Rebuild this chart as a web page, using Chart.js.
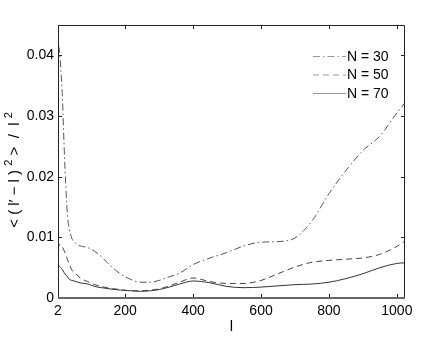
<!DOCTYPE html>
<html><head><meta charset="utf-8">
<script src="https://cdn.jsdelivr.net/npm/chart.js@4/dist/chart.umd.min.js"></script>
<style>html,body{margin:0;padding:0;background:#fff}#wrap{width:448px;height:337px;position:relative}</style>
</head><body><div id="wrap"><canvas id="c" width="448" height="337"></canvas></div>
<script>
// ---- data ----
const lValues = [2, 6, 10, 15, 20, 25, 30, 35, 43, 55, 67, 90, 110, 130, 155, 185, 215, 245, 275, 300, 330, 360, 400, 450, 500, 550, 600, 650, 700, 750, 800, 850, 900, 950, 1000, 1024];
const n30 = [0.0415, 0.0410, 0.0380, 0.0330, 0.0250, 0.0184, 0.0135, 0.0115, 0.0098, 0.0090, 0.0086, 0.0083, 0.0077, 0.0068, 0.0054, 0.0040, 0.0031, 0.0026, 0.0026, 0.0029, 0.0035, 0.0041, 0.0055, 0.0066, 0.0075, 0.0086, 0.0092, 0.0093, 0.0099, 0.0127, 0.0172, 0.0210, 0.0243, 0.0267, 0.0305, 0.0322];
const n50 = [0.0080, 0.0088, 0.0088, 0.0084, 0.0078, 0.0072, 0.0063, 0.0056, 0.0046, 0.0040, 0.0033, 0.0027, 0.0022, 0.0019, 0.0016, 0.0014, 0.0012, 0.0012, 0.0013, 0.0015, 0.0020, 0.0026, 0.0033, 0.0027, 0.0024, 0.0024, 0.0029, 0.0040, 0.0051, 0.0059, 0.0062, 0.0064, 0.0066, 0.0072, 0.0085, 0.0094];
const n70 = [0.0051, 0.0052, 0.0050, 0.0047, 0.0042, 0.0038, 0.0035, 0.0031, 0.0029, 0.0027, 0.0025, 0.0023, 0.0019, 0.0017, 0.0015, 0.0013, 0.0012, 0.0011, 0.0012, 0.0014, 0.0018, 0.0023, 0.0028, 0.0025, 0.0019, 0.0017, 0.0018, 0.0020, 0.0022, 0.0023, 0.0026, 0.0032, 0.0040, 0.0050, 0.0057, 0.0058];
const seriesNames = ['N = 30', 'N = 50', 'N = 70'];
const xTicks = [2, 200, 400, 600, 800, 1000];
const yTicks = [0, 0.01, 0.02, 0.03, 0.04];
const xTitle = 'l';

const FONT = "'Liberation Sans', Arial, Helvetica, sans-serif";
Chart.defaults.font.family = FONT;
Chart.defaults.font.size = 14;
Chart.defaults.color = '#000';

const toPts = arr => arr.map((v, i) => ({x: lValues[i], y: v}));

const framePlugin = {
  id: 'frame',
  afterDatasetsDraw(chart) {
    const {ctx, chartArea: a, scales} = chart;
    ctx.save();
    // inner ticks
    ctx.strokeStyle = '#222';
    ctx.lineWidth = 1;
    const tl = 4;
    ctx.beginPath();
    xTicks.forEach(v => {
      const px = Math.round(scales.x.getPixelForValue(v)) + 0.5;
      ctx.moveTo(px, a.bottom); ctx.lineTo(px, a.bottom - tl);
      ctx.moveTo(px, a.top); ctx.lineTo(px, a.top + tl);
    });
    yTicks.forEach(v => {
      const py = Math.round(scales.y.getPixelForValue(v)) + 0.5;
      ctx.moveTo(a.left, py); ctx.lineTo(a.left + tl, py);
      ctx.moveTo(a.right, py); ctx.lineTo(a.right - tl, py);
    });
    ctx.stroke();
    // frame
    ctx.beginPath();
    ctx.moveTo(a.left + 0.5, a.bottom); ctx.lineTo(a.left + 0.5, a.top + 0.5);
    ctx.lineTo(a.right - 0.5, a.top + 0.5); ctx.lineTo(a.right - 0.5, a.bottom);
    ctx.stroke();
    ctx.strokeStyle = '#666';
    ctx.lineWidth = 2;
    ctx.beginPath();
    ctx.moveTo(a.left, a.bottom); ctx.lineTo(a.right, a.bottom);
    ctx.stroke();

    // legend inside plot
    ctx.font = '14px ' + FONT;
    ctx.textBaseline = 'middle';
    ctx.textAlign = 'left';
    chart.data.datasets.forEach((ds, i) => {
      const y = 56 + i * 18.5;
      ctx.strokeStyle = '#999';
      ctx.lineWidth = 1.2;
      ctx.setLineDash(ds.borderDash || []);
      ctx.beginPath();
      ctx.moveTo(313, y + 0.5); ctx.lineTo(346, y + 0.5);
      ctx.stroke();
      ctx.setLineDash([]);
      ctx.fillStyle = '#000';
      ctx.fillText(ds.label, 347, y + 1);
    });

    // y axis title with raised exponents
    const parts = [
      {t: '< ( l\u2032 \u2212 l ) ', sup: false},
      {t: '2', sup: true},
      {t: ' >  /  l ', sup: false},
      {t: '2', sup: true}
    ];
    const normal = '15px ' + FONT, small = '11px ' + FONT;
    let W = 0;
    parts.forEach(p => { ctx.font = p.sup ? small : normal; p.w = ctx.measureText(p.t).width; W += p.w; });
    ctx.translate(15, 170);
    ctx.rotate(-Math.PI / 2);
    let x = -W / 2;
    ctx.textBaseline = 'middle';
    parts.forEach(p => {
      ctx.font = p.sup ? small : normal;
      ctx.fillText(p.t, x, p.sup ? -6 : 0);
      x += p.w;
    });
    ctx.restore();
  }
};

new Chart(document.getElementById('c'), {
  type: 'line',
  data: {
    datasets: [
      {label: seriesNames[0], data: toPts(n30), borderColor: '#555', borderWidth: 1, borderDash: [7, 3, 1.5, 3]},
      {label: seriesNames[1], data: toPts(n50), borderColor: '#444', borderWidth: 1, borderDash: [6, 4]},
      {label: seriesNames[2], data: toPts(n70), borderColor: '#333', borderWidth: 1}
    ]
  },
  options: {
    responsive: false,
    devicePixelRatio: 1,
    animation: false,
    layout: {padding: {left: 0, right: 43, top: 25, bottom: 0}},
    elements: {point: {radius: 0}, line: {cubicInterpolationMode: 'monotone', fill: false}},
    plugins: {legend: {display: false}, tooltip: {enabled: false}},
    scales: {
      x: {
        type: 'linear', min: 2, max: 1024,
        afterBuildTicks: s => { s.ticks = xTicks.map(v => ({value: v})); },
        afterFit: s => { s.height = 39; },
        grid: {display: false, drawTicks: false},
        border: {display: false},
        ticks: {padding: 5, maxRotation: 0, autoSkip: false, callback: v => String(v), font: {size: 14}},
        title: {display: true, text: xTitle, font: {size: 15}, padding: {top: 0, bottom: 1}}
      },
      y: {
        type: 'linear', min: 0, max: 0.045,
        afterBuildTicks: s => { s.ticks = yTicks.map(v => ({value: v})); },
        afterFit: s => { s.width = 58; },
        grid: {display: false, drawTicks: false},
        border: {display: false},
        ticks: {padding: 4, autoSkip: false, callback: v => (v === 0 ? '0' : String(+v.toFixed(2))), font: {size: 14}}
      }
    }
  },
  plugins: [framePlugin]
});
</script>
</body></html>
